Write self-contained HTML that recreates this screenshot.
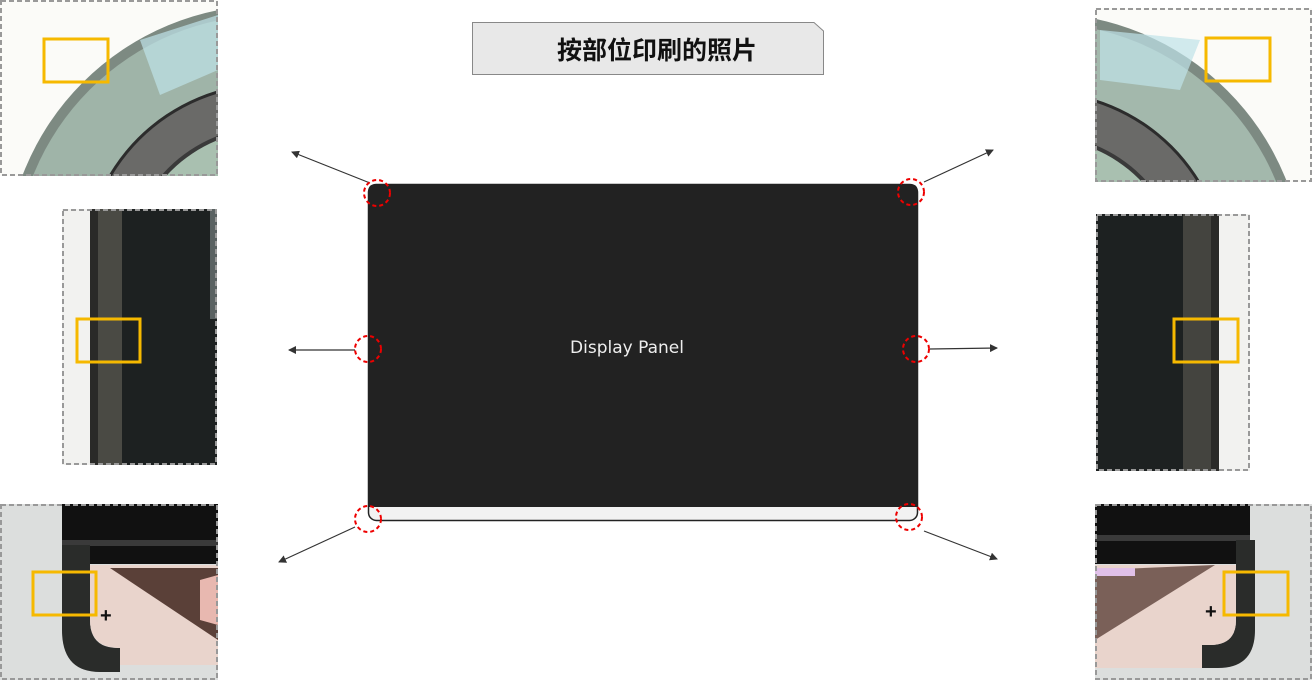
<!DOCTYPE html>
<html><head><meta charset="utf-8"><style>
body{margin:0;background:#fff;width:1313px;height:680px;overflow:hidden}
svg{display:block}
</style></head><body>
<svg width="1313" height="680" viewBox="0 0 1313 680" xmlns="http://www.w3.org/2000/svg">
<defs>
<marker id="ah" markerWidth="8" markerHeight="8" refX="7" refY="4" orient="auto" markerUnits="userSpaceOnUse">
<path d="M0,0 L8,4 L0,8 z" fill="#333"/></marker>
<clipPath id="c1"><rect x="0" y="0" width="218" height="176"/></clipPath>
<clipPath id="c2"><rect x="1095" y="8" width="217" height="174"/></clipPath>
<clipPath id="c3"><rect x="62" y="209" width="155" height="256"/></clipPath>
<clipPath id="c4"><rect x="1096" y="214" width="154" height="257"/></clipPath>
<clipPath id="c5"><rect x="0" y="504" width="218" height="176"/></clipPath>
<clipPath id="c6"><rect x="1095" y="504" width="217" height="176"/></clipPath>
</defs>

<!-- TL image -->
<g clip-path="url(#c1)">
<rect x="0" y="0" width="218" height="176" fill="#fbfbf8"/>
<circle cx="270" cy="270" r="265" fill="#7d8a82"/>
<circle cx="270" cy="270" r="255" fill="#9fb4a8"/>
<path d="M140,40 L218,15 L218,70 L160,95z" fill="#bfe3e8" opacity=".7"/>
<circle cx="270" cy="270" r="187" fill="#2c2c2c"/>
<circle cx="270" cy="270" r="184" fill="#6a6a68"/>
<circle cx="270" cy="270" r="144" fill="#3a3a3a"/>
<circle cx="270" cy="270" r="140" fill="#a9c0b0"/>
</g>
<rect x="1" y="1" width="216" height="174" fill="none" stroke="#999" stroke-width="2" stroke-dasharray="5 3"/>
<rect x="44" y="39" width="64" height="43" fill="none" stroke="#f6b900" stroke-width="3"/>

<!-- TR image -->
<g clip-path="url(#c2)">
<rect x="1095" y="8" width="217" height="174" fill="#fbfbf8"/>
<circle cx="1040" cy="278" r="265" fill="#7d8a82"/>
<circle cx="1040" cy="278" r="255" fill="#a3b8ac"/>
<path d="M1100,30 L1200,40 L1180,90 L1100,80z" fill="#bfe3e8" opacity=".7"/>
<circle cx="1040" cy="278" r="187" fill="#2c2c2c"/>
<circle cx="1040" cy="278" r="184" fill="#6a6a68"/>
<circle cx="1040" cy="278" r="144" fill="#3a3a3a"/>
<circle cx="1040" cy="278" r="140" fill="#a9c0b0"/>
</g>
<rect x="1096" y="9" width="215" height="172" fill="none" stroke="#999" stroke-width="2" stroke-dasharray="5 3"/>
<rect x="1206" y="38" width="64" height="43" fill="none" stroke="#f6b900" stroke-width="3"/>

<!-- ML image -->
<g clip-path="url(#c3)">
<rect x="62" y="209" width="155" height="256" fill="#1d2121"/>
<rect x="62" y="209" width="28" height="256" fill="#f2f2f0"/>
<rect x="90" y="209" width="8" height="256" fill="#2a2a28"/>
<rect x="98" y="209" width="24" height="256" fill="#4a4a44"/>
<rect x="210" y="209" width="7" height="110" fill="#5a6262"/>
</g>
<rect x="63" y="210" width="153" height="254" fill="none" stroke="#999" stroke-width="2" stroke-dasharray="5 3"/>
<rect x="77" y="319" width="63" height="43" fill="none" stroke="#f6b900" stroke-width="3"/>

<!-- MR image -->
<g clip-path="url(#c4)">
<rect x="1096" y="214" width="154" height="257" fill="#1d2121"/>
<rect x="1183" y="214" width="28" height="257" fill="#44443f"/>
<rect x="1211" y="214" width="8" height="257" fill="#2a2a28"/>
<rect x="1219" y="214" width="31" height="257" fill="#f2f2f0"/>
</g>
<rect x="1097" y="215" width="152" height="255" fill="none" stroke="#999" stroke-width="2" stroke-dasharray="5 3"/>
<rect x="1174" y="319" width="64" height="43" fill="none" stroke="#f6b900" stroke-width="3"/>

<!-- BL image -->
<g clip-path="url(#c5)">
<rect x="0" y="504" width="218" height="176" fill="#dcdedd"/>
<rect x="62" y="504" width="156" height="60" fill="#111"/>
<rect x="62" y="540" width="156" height="6" fill="#3a3a3a"/>
<path d="M62,545 L90,545 L90,620 Q90,648 118,648 L120,648 L120,672 L100,672 Q62,672 62,630z" fill="#2a2c2a"/>
<path d="M90,565 L218,565 L218,665 L120,665 L120,648 Q90,648 90,620z" fill="#e9d4cc"/>
<path d="M110,568 L218,568 L218,640 z" fill="#5a4038"/>
<path d="M200,580 L218,575 L218,625 L200,620z" fill="#e8b8b0"/>
<text x="100" y="622" font-family="Liberation Sans,sans-serif" font-size="20" font-weight="bold" fill="#111">+</text>
</g>
<rect x="1" y="505" width="216" height="174" fill="none" stroke="#999" stroke-width="2" stroke-dasharray="5 3"/>
<rect x="33" y="572" width="63" height="43" fill="none" stroke="#f6b900" stroke-width="3"/>

<!-- BR image -->
<g clip-path="url(#c6)">
<rect x="1095" y="504" width="217" height="176" fill="#dcdedd"/>
<rect x="1095" y="504" width="155" height="60" fill="#111"/>
<rect x="1095" y="535" width="155" height="6" fill="#3a3a3a"/>
<path d="M1236,540 L1255,540 L1255,630 Q1255,668 1218,668 L1202,668 L1202,645 L1210,645 Q1236,645 1236,620z" fill="#2a2c2a"/>
<path d="M1095,565 L1236,565 L1236,620 Q1236,645 1210,645 L1202,645 L1202,668 L1095,668z" fill="#e9d4cc"/>
<path d="M1095,570 L1215,565 L1095,640z" fill="#7a6058"/>
<rect x="1095" y="568" width="40" height="8" fill="#e0c0e8"/>
<text x="1205" y="618" font-family="Liberation Sans,sans-serif" font-size="20" font-weight="bold" fill="#111">+</text>
</g>
<rect x="1096" y="505" width="215" height="174" fill="none" stroke="#999" stroke-width="2" stroke-dasharray="5 3"/>
<rect x="1224" y="572" width="64" height="43" fill="none" stroke="#f6b900" stroke-width="3"/>

<!-- Title -->
<path d="M472.5,22.5 L814,22.5 L823.5,31 L823.5,74.5 L472.5,74.5 z" fill="#e8e8e8" stroke="#888" stroke-width="1"/>
<text x="657" y="59" text-anchor="middle" font-family="'Liberation Sans','Noto Sans CJK SC',sans-serif" font-size="25" font-weight="bold" fill="#111">按部位印刷的照片</text>

<!-- Panel -->
<rect x="368.5" y="184.5" width="549" height="336" rx="8" fill="#f2f2f2" stroke="#222" stroke-width="1.5"/>
<path d="M376,184 L910,184 Q918,184 918,192 L918,507 L368,507 L368,192 Q368,184 376,184z" fill="#222"/>
<text x="627" y="353" text-anchor="middle" font-family="'DejaVu Sans',sans-serif" font-size="17" fill="#eee">Display Panel</text>

<!-- Arrows -->
<g stroke="#333" stroke-width="1.2" marker-end="url(#ah)">
<line x1="370" y1="183" x2="292" y2="152"/>
<line x1="924" y1="182" x2="993" y2="150"/>
<line x1="355" y1="350" x2="289" y2="350"/>
<line x1="930" y1="349" x2="997" y2="348"/>
<line x1="355" y1="527" x2="279" y2="562"/>
<line x1="924" y1="531" x2="997" y2="559"/>
</g>

<!-- Red dashed circles -->
<g fill="none" stroke="#e00" stroke-width="2" stroke-dasharray="4 3">
<circle cx="377" cy="193" r="13"/>
<circle cx="911" cy="192" r="13"/>
<circle cx="368" cy="349" r="13"/>
<circle cx="916" cy="349" r="13"/>
<circle cx="368" cy="519" r="13"/>
<circle cx="909" cy="517" r="13"/>
</g>
</svg>
</body></html>
